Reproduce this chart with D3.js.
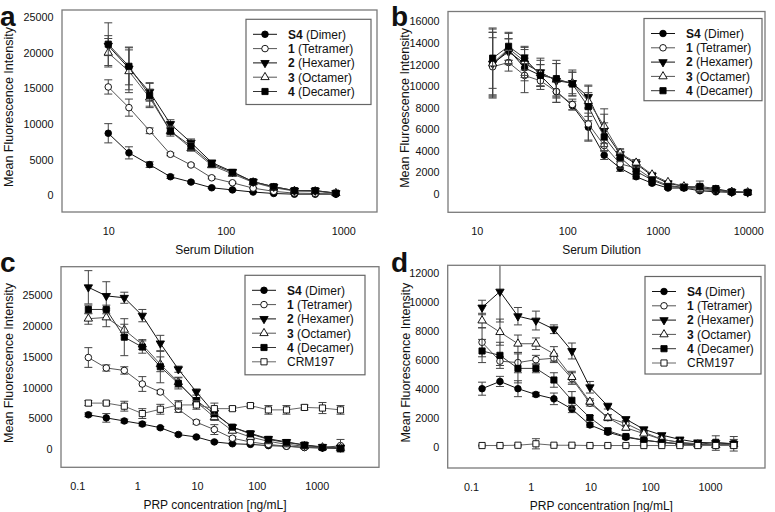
<!DOCTYPE html>
<html>
<head>
<meta charset="utf-8">
<script src="https://cdn.jsdelivr.net/npm/d3@7"></script>
<style>
  body { margin: 0; background: #fff; }
  text { font-family: "Liberation Sans", Arial, sans-serif; fill: #111; }
</style>
</head>
<body>
<div id="chart"></div>
<script>
var W = 775, H = 512;

// series names / legend labels
var seriesKeys = ["S4", "1", "2", "3", "4", "CRM197"];
var seriesBold = ["S4", "1", "2", "3", "4", ""];
var seriesRest = [" (Dimer)", " (Tetramer)", " (Hexamer)", " (Octamer)", " (Decamer)", "CRM197"];

// panel a : serum dilution
var aX = [10, 15, 22.5, 33.8, 50.6, 75.9, 114, 171, 256, 384, 577, 865];
var aS4 = [8700, 5950, 4300, 2600, 1850, 1050, 750, 450, 250, 150, 150, 150];
var aS4err = [1350, 850, 400, 250, 150, 100, 80, 60, 50, 40, 40, 40];
var a1 = [15200, 12300, 9050, 5750, 4250, 2450, 1750, 1000, 550, 300, 250, 200];
var a1err = [1000, 1200, 400, 200, 150, 150, 100, 80, 60, 50, 50, 40];
var a2 = [21000, 17800, 14500, 10000, 7400, 4600, 3300, 1900, 1200, 650, 650, 300];
var a2err = [1400, 3000, 1300, 600, 500, 300, 200, 150, 150, 100, 100, 80];
var a3 = [20000, 17400, 13700, 9000, 6600, 4200, 3000, 1800, 1050, 600, 550, 300];
var a3err = [2000, 3000, 1200, 500, 400, 250, 200, 150, 100, 80, 80, 60];
var a4 = [21200, 18100, 14000, 9000, 6900, 4400, 3200, 1900, 1200, 650, 650, 300];
var a4err = [3000, 2600, 1700, 700, 500, 300, 200, 150, 100, 80, 80, 60];

// panel b : serum dilution
var bX = [15, 22.5, 33.8, 50.6, 75.9, 114, 171, 256, 384, 577, 865, 1297, 1946, 2919, 4379, 6568, 9853];
var bS4 = [12000, 13400, 11700, 11000, 9500, 8200, 6200, 3600, 2400, 1600, 1000, 550, 550, 300, 200, 150, 150];
var bS4err = [3000, 1000, 1200, 1000, 1000, 400, 1300, 400, 300, 200, 150, 100, 100, 100, 80, 60, 50];
var b1 = [11800, 12200, 11000, 10500, 9500, 8300, 6500, 4500, 2800, 2400, 1400, 800, 600, 400, 300, 150, 150];
var b1err = [2700, 800, 1600, 800, 1000, 500, 1500, 500, 400, 300, 150, 100, 100, 100, 80, 60, 50];
var b2 = [12100, 13200, 12100, 11300, 10500, 10300, 9000, 5900, 3700, 2800, 1700, 1000, 700, 600, 400, 200, 150];
var b2err = [3200, 1200, 1300, 1300, 1600, 1000, 1100, 1500, 400, 300, 200, 150, 150, 200, 100, 60, 50];
var b3 = [12100, 13500, 12300, 11200, 10600, 10300, 8600, 6300, 3800, 2900, 1800, 1100, 700, 500, 400, 200, 150];
var b3err = [2900, 1400, 1300, 1200, 1500, 1200, 1400, 1600, 400, 300, 200, 150, 150, 300, 100, 60, 50];
var b4 = [12600, 13700, 12600, 11000, 10700, 10200, 8100, 5300, 3400, 2100, 1300, 700, 600, 700, 500, 200, 150];
var b4err = [2800, 1300, 1100, 1000, 1700, 1100, 1300, 1300, 400, 300, 200, 150, 150, 500, 100, 60, 50];

// panel c / d : PRP concentration [ng/mL]
var cX = [0.153, 0.305, 0.61, 1.22, 2.44, 4.88, 9.77, 19.5, 39.1, 78.1, 156, 313, 625, 1250, 2500];
var cS4 = [5600, 5100, 4600, 4100, 3500, 2400, 2000, 1200, 900, 800, 600, 500, 300, 200, 200];
var cS4err = [300, 700, 300, 300, 200, 200, 150, 150, 100, 100, 100, 80, 60, 60, 300];
var c1 = [14900, 13200, 12800, 10600, 9300, 6500, 4400, 3200, 1800, 1200, 800, 500, 300, 250, 600];
var c1err = [1600, 500, 600, 1200, 300, 500, 300, 800, 300, 200, 150, 100, 100, 100, 1000];
var c2 = [26300, 24900, 24600, 21700, 17200, 13000, 9300, 5900, 3600, 2600, 1700, 1200, 700, 400, 300];
var c2err = [2700, 2300, 900, 1000, 1300, 500, 500, 500, 300, 300, 200, 150, 100, 100, 200];
var c3 = [21200, 21400, 19400, 17000, 13800, 10900, 7700, 5200, 3000, 2000, 1300, 800, 500, 300, 200];
var c3err = [900, 1500, 900, 800, 1200, 800, 500, 500, 300, 200, 150, 100, 100, 100, 100];
var c4 = [22700, 22700, 18200, 16600, 13400, 10700, 7900, 5800, 3600, 2500, 1600, 1100, 700, 300, 100];
var c4err = [700, 700, 3000, 1000, 2600, 900, 500, 500, 300, 200, 150, 100, 100, 200, 300];
var cCRM = [7500, 7500, 7000, 5800, 6500, 7200, 7200, 6600, 6600, 7100, 6400, 6400, 6800, 6700, 6400];
var cCRMerr = [400, 300, 800, 800, 800, 700, 700, 900, 300, 300, 700, 700, 400, 900, 700];

var dX = [0.153, 0.305, 0.61, 1.22, 2.44, 4.88, 9.77, 19.5, 39.1, 78.1, 156, 313, 625, 1250, 2500];
var dS4 = [4000, 4500, 4000, 3600, 3300, 2600, 1500, 1000, 650, 450, 300, 200, 150, 100, 150];
var dS4err = [450, 350, 550, 150, 400, 250, 150, 150, 100, 80, 60, 50, 50, 50, 80];
var d1 = [7200, 5900, 5800, 6000, 6100, 4700, 3000, 2000, 1600, 1000, 500, 300, 200, 100, 200];
var d1err = [1000, 300, 700, 300, 300, 400, 200, 200, 200, 150, 100, 80, 60, 60, 100];
var d2 = [9600, 10700, 9000, 8700, 8100, 6600, 4100, 2800, 1900, 1200, 800, 500, 300, 250, 200];
var d2err = [500, 2100, 600, 650, 300, 550, 400, 200, 150, 150, 100, 80, 80, 500, 500];
var d3v = [8700, 7900, 7100, 7100, 6400, 4800, 3100, 2000, 1300, 900, 500, 300, 150, 100, 150];
var d3err = [500, 900, 600, 400, 500, 400, 200, 200, 150, 100, 80, 60, 60, 60, 80];
var d4 = [6600, 6300, 5400, 5400, 4600, 3200, 2000, 1100, 700, 450, 300, 200, 150, 300, 200];
var d4err = [800, 900, 1000, 300, 500, 600, 150, 150, 100, 80, 60, 60, 60, 100, 300];
var dCRM = [80, 80, 100, 200, 100, 100, 80, 80, 80, 80, 80, 80, 80, 80, 80];
var dCRMerr = [30, 30, 50, 350, 30, 30, 30, 30, 30, 30, 30, 30, 30, 30, 30];

// tick labels
var aYTicks = [0, 5000, 10000, 15000, 20000, 25000];
var bYTicks = [0, 2000, 4000, 6000, 8000, 10000, 12000, 14000, 16000];
var cYTicks = [0, 5000, 10000, 15000, 20000, 25000];
var dYTicks = [0, 2000, 4000, 6000, 8000, 10000, 12000];
var aXTicks = [10, 100, 1000];
var bXTicks = [10, 100, 1000, 10000];
var cXTicks = [0.1, 1, 10, 100, 1000];

// marker styles per series
var styles = {
    "S4":     {shape: d3.symbolCircle,   size: 34, fill: "#000", rot: 0,   line: "#111"},
    "1":      {shape: d3.symbolCircle,   size: 34, fill: "#fff", rot: 0,   line: "#555"},
    "2":      {shape: d3.symbolTriangle, size: 30, fill: "#000", rot: 180, line: "#111"},
    "3":      {shape: d3.symbolTriangle, size: 30, fill: "#fff", rot: 0,   line: "#555"},
    "4":      {shape: d3.symbolSquare,   size: 38, fill: "#000", rot: 0,   line: "#333"},
    "CRM197": {shape: d3.symbolSquare,   size: 38, fill: "#fff", rot: 0,   line: "#666"}
};

var svg = d3.select("#chart").append("svg")
    .attr("width", W)
    .attr("height", H);

function drawPanel(p) {
    var x = d3.scaleLog().domain(p.xDomain).range([p.left, p.right]);
    var y = d3.scaleLinear().domain(p.yDomain).range([p.bottom, p.top]);

    var clipId = "clip-" + p.letter;
    svg.append("clipPath").attr("id", clipId)
        .append("rect")
        .attr("x", p.left).attr("y", p.top)
        .attr("width", p.right - p.left).attr("height", p.bottom - p.top);

    //y axis (no ticks, no domain line)
    var gy = svg.append("g")
        .attr("transform", "translate(" + p.left + ",0)")
        .call(d3.axisLeft(y).tickValues(p.yTicks).tickSize(0).tickPadding(8.5).tickFormat(d3.format("d")));
    gy.select(".domain").remove();
    gy.selectAll("text").attr("font-size", 10.8).attr("font-family", null).attr("fill", "#111");

    //x axis
    var gx = svg.append("g")
        .attr("transform", "translate(0," + p.bottom + ")")
        .call(d3.axisBottom(x).tickValues(p.xTicks).tickSize(0).tickPadding(15.5).tickFormat(function(d) { return String(d); }));
    gx.select(".domain").remove();
    gx.selectAll("text").attr("font-size", 10.8).attr("font-family", null).attr("fill", "#111");

    // axis titles
    svg.append("text")
        .attr("x", (p.left + p.right) / 2 - 5)
        .attr("y", p.bottom + 42)
        .attr("text-anchor", "middle")
        .style("font-size", "12px")
        .text(p.xTitle);

    svg.append("text")
        .attr("transform", "translate(" + p.yTitleX + "," + ((p.top + p.bottom) / 2 - 4) + ") rotate(-90)")
        .attr("text-anchor", "middle")
        .attr("dominant-baseline", "central")
        .style("font-size", "12.5px")
        .text(p.yTitle);

    // panel letter
    svg.append("text")
        .attr("x", p.letterX).attr("y", p.letterY)
        .style("font-size", "28px")
        .style("font-weight", "bold")
        .text(p.letter);

    var plot = svg.append("g").attr("clip-path", "url(#" + clipId + ")");
    var line = d3.line().x(function(d) { return x(d.x); }).y(function(d) { return y(d.y); });

    p.series.forEach(function(s) {
        var st = styles[s.key];
        var pts = p.xs.map(function(v, i) { return {x: v, y: s.values[i], e: s.errs[i]}; });

        // error bars
        var eb = plot.append("g").attr("stroke", "#444").attr("stroke-width", 1);
        pts.forEach(function(d) {
            var cx = x(d.x), y1 = y(d.y + d.e), y2 = y(d.y - d.e);
            eb.append("line").attr("x1", cx).attr("x2", cx).attr("y1", y1).attr("y2", y2);
            eb.append("line").attr("x1", cx - 4).attr("x2", cx + 4).attr("y1", y1).attr("y2", y1);
            eb.append("line").attr("x1", cx - 4).attr("x2", cx + 4).attr("y1", y2).attr("y2", y2);
        });

        plot.append("path")
            .datum(pts)
            .attr("d", line)
            .attr("fill", "none")
            .attr("stroke", st.line)
            .attr("stroke-width", 1);

        plot.selectAll(null)
            .data(pts)
            .enter()
            .append("path")
            .attr("d", d3.symbol().type(st.shape).size(st.size))
            .attr("transform", function(d) { return "translate(" + x(d.x) + "," + y(d.y) + ") rotate(" + st.rot + ")"; })
            .attr("fill", st.fill)
            .attr("stroke", "#000")
            .attr("stroke-width", 0.9);
    });

    // frame
    svg.append("rect")
        .attr("x", p.left).attr("y", p.top)
        .attr("width", p.right - p.left).attr("height", p.bottom - p.top)
        .attr("fill", "none")
        .attr("stroke", "#7a7a7a")
        .attr("stroke-width", 1.3);

    // legend
    var lg = p.legend;
    var n = p.series.length;
    svg.append("rect")
        .attr("x", lg.x).attr("y", lg.y)
        .attr("width", lg.w).attr("height", 15 + (n - 1) * 14.3 + lg.pad)
        .attr("fill", "#fff")
        .attr("stroke", "#666")
        .attr("stroke-width", 1.2);

    p.series.forEach(function(s, i) {
        var st = styles[s.key];
        var k = seriesKeys.indexOf(s.key);
        var cy = lg.y + 15 + i * 14.3;
        svg.append("line")
            .attr("x1", lg.x + 7).attr("x2", lg.x + 31)
            .attr("y1", cy).attr("y2", cy)
            .attr("stroke", st.line).attr("stroke-width", 1);
        svg.append("path")
            .attr("d", d3.symbol().type(st.shape).size(st.size))
            .attr("transform", "translate(" + (lg.x + 19) + "," + cy + ") rotate(" + st.rot + ")")
            .attr("fill", st.fill)
            .attr("stroke", "#000")
            .attr("stroke-width", 0.9);
        var t = svg.append("text")
            .attr("x", lg.x + 42).attr("y", cy + 4.3)
            .style("font-size", "12px");
        if (seriesBold[k] !== "") {
            t.append("tspan").style("font-weight", "bold").text(seriesBold[k]);
        }
        t.append("tspan").text(seriesRest[k]);
    });
}

var topSeries = function(v) {
    return [
        {key: "S4", values: v[0], errs: v[1]},
        {key: "1", values: v[2], errs: v[3]},
        {key: "2", values: v[4], errs: v[5]},
        {key: "3", values: v[6], errs: v[7]},
        {key: "4", values: v[8], errs: v[9]}
    ];
};

drawPanel({
    letter: "a", letterX: 0, letterY: 25.5,
    left: 62, right: 377, top: 10, bottom: 212,
    xDomain: [4.04, 1936], yDomain: [-2350, 26000],
    xs: aX, xTicks: aXTicks, yTicks: aYTicks,
    xTitle: "Serum Dilution", yTitle: "Mean Fluorescence Intensity", yTitleX: 8.5,
    legend: {x: 246, y: 19.3, w: 125, pad: 13},
    series: topSeries([aS4, aS4err, a1, a1err, a2, a2err, a3, a3err, a4, a4err])
});

drawPanel({
    letter: "b", letterX: 391, letterY: 25.5,
    left: 448, right: 765, top: 11.5, bottom: 212.3,
    xDomain: [4.82, 15300], yDomain: [-1700, 16930],
    xs: bX, xTicks: bXTicks, yTicks: bYTicks,
    xTitle: "Serum Dilution", yTitle: "Mean Fluroescence Intensity", yTitleX: 405,
    legend: {x: 644, y: 18.5, w: 118, pad: 10},
    series: topSeries([bS4, bS4err, b1, b1err, b2, b2err, b3, b3err, b4, b4err])
});

drawPanel({
    letter: "c", letterX: 0, letterY: 272,
    left: 61, right: 379, top: 266.7, bottom: 467.3,
    xDomain: [0.0534, 11000], yDomain: [-2920, 29640],
    xs: cX, xTicks: cXTicks, yTicks: cYTicks,
    xTitle: "PRP concentration [ng/mL]", yTitle: "Mean Fluorescence Intensity", yTitleX: 8.5,
    legend: {x: 245, y: 275.3, w: 120, pad: 13},
    series: topSeries([cS4, cS4err, c1, c1err, c2, c2err, c3, c3err, c4, c4err])
        .concat([{key: "CRM197", values: cCRM, errs: cCRMerr}])
});

drawPanel({
    letter: "d", letterX: 391, letterY: 272,
    left: 447.7, right: 765, top: 265.3, bottom: 468,
    xDomain: [0.0407, 8330], yDomain: [-1470, 12510],
    xs: dX, xTicks: cXTicks, yTicks: dYTicks,
    xTitle: "PRP concentration [ng/mL]", yTitle: "Mean Fluorescence Intensity", yTitleX: 406,
    legend: {x: 645, y: 276.5, w: 116, pad: 11},
    series: topSeries([dS4, dS4err, d1, d1err, d2, d2err, d3v, d3err, d4, d4err])
        .concat([{key: "CRM197", values: dCRM, errs: dCRMerr}])
});
</script>
</body>
</html>
